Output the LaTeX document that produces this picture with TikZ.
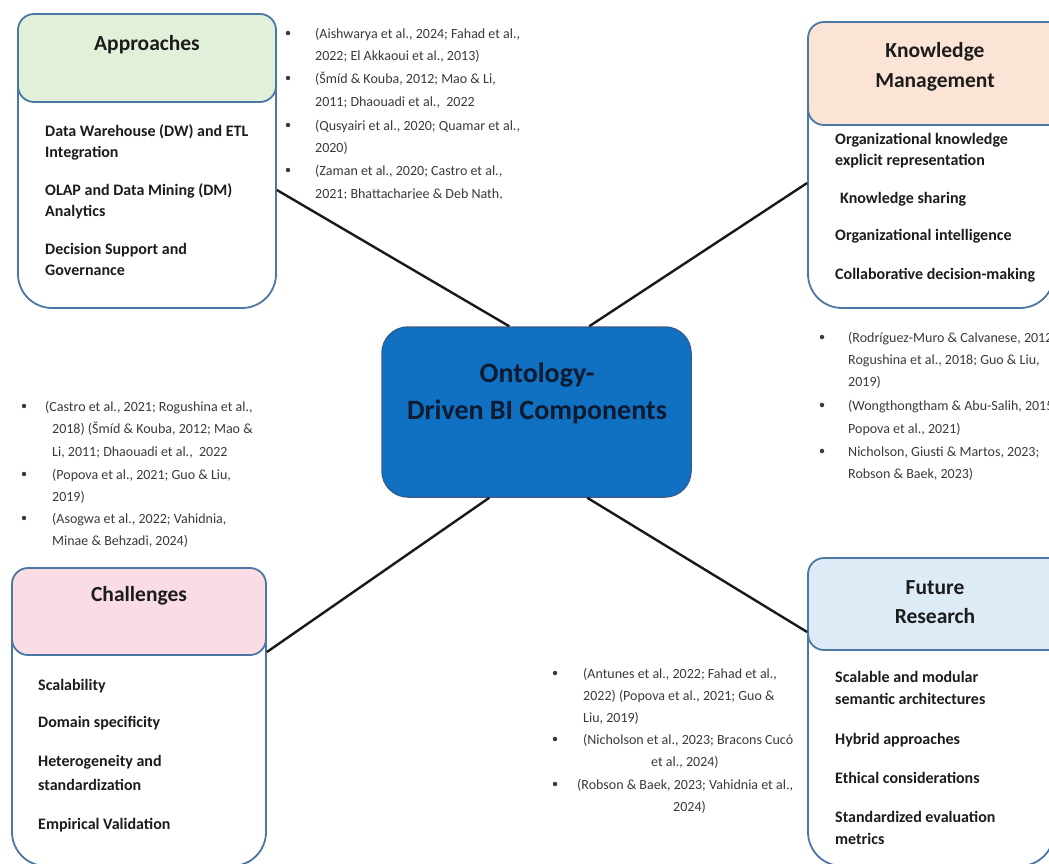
\documentclass[tikz,border=0pt]{standalone}
\usepackage{fontspec}
\setmainfont{Carlito}
\usetikzlibrary{calc}
\definecolor{bordc}{HTML}{4A77A3}
\definecolor{greenh}{HTML}{E2EFD9}
\definecolor{peachh}{HTML}{FBE4D5}
\definecolor{pinkh}{HTML}{F9DCE4}
\definecolor{blueh}{HTML}{DDEBF7}
\definecolor{ctrfill}{HTML}{1070C2}
\definecolor{ctrbord}{HTML}{2F5E92}
\definecolor{txt}{HTML}{1C1C1C}
\definecolor{citec}{HTML}{3A3A3A}
\definecolor{ctrtxt}{HTML}{0E1A30}
\tikzset{
  outerbox/.style={draw=bordc, line width=1.8pt, fill=white, rounded corners=34pt, inner sep=0},
  headbox/.style={draw=bordc, line width=1.8pt, rounded corners=16pt, inner sep=0},
  bodytxt/.style={font=\bfseries\fontsize{16}{19}\selectfont, text=txt, anchor=base west, inner sep=0},
  citetxt/.style={font=\fontsize{14}{16}\selectfont, text=citec, anchor=base west, inner sep=0},
  titletxt/.style={font=\bfseries\fontsize{21.5}{25}\selectfont, text=txt, anchor=base, inner sep=0},
  ctrtitle/.style={font=\bfseries\fontsize{28}{32}\selectfont, text=ctrtxt, anchor=base, inner sep=0},
  bul/.style={circle, fill=citec, inner sep=0, minimum size=4.5pt},
  conn/.style={draw=black!90, line width=2.4pt},
}
\begin{document}
\begin{tikzpicture}[x=1pt,y=-1pt]
\useasboundingbox (0,0) rectangle (1049,863);
\fill[white] (0,0) rectangle (1049,863);

% outer boxes
\node[outerbox, minimum width=258pt, minimum height=294pt] (appr) at (147,161) {};
\node[outerbox, minimum width=246pt, minimum height=286pt] (know) at (931,165) {};
\node[outerbox, minimum width=254pt, minimum height=298pt] (chal) at (139,717) {};
\node[outerbox, minimum width=246pt, minimum height=308pt] (futr) at (931,712) {};

% header boxes
\node[headbox, fill=greenh, minimum width=258pt, minimum height=88pt] (apprh) at (147,58) {};
\node[headbox, fill=peachh, minimum width=262pt, minimum height=103pt] (knowh) at (939,73.5) {};
\node[headbox, fill=pinkh, minimum width=254pt, minimum height=87pt] (chalh) at (139,611.5) {};
\node[headbox, fill=blueh, minimum width=262pt, minimum height=92pt] (futrh) at (939,604) {};

% center
\node[draw=ctrbord, line width=1.5pt, fill=ctrfill, rounded corners=26pt, minimum width=309pt, minimum height=170pt, inner sep=0] (ctr) at (536.5,412) {};
\node[ctrtitle] (ct1) at (537,382.5) {Ontology-};
\node[ctrtitle] (ct2) at (537,419.5) {Driven BI Components};

% connectors
\coordinate (ca) at ($(appr.east)+(0,29)$);
\coordinate (ck) at ($(know.west)+(0,18)$);
\coordinate (cc) at ($(chal.east)+(0,-65)$);
\coordinate (cf) at ($(futr.west)+(0,-80)$);
\coordinate (ea) at ($(ctr.north west)+(128,0)$);
\coordinate (ek) at ($(ctr.north west)+(208,0)$);
\coordinate (ec) at ($(ctr.south west)+(108,0)$);
\coordinate (ef) at ($(ctr.south west)+(206,0)$);
\draw[conn] (ca) -- (ea);
\draw[conn] (ck) -- (ek);
\draw[conn] (cc) -- (ec);
\draw[conn] (cf) -- (ef);

% titles
\node[titletxt] (t1) at (147,50) {Approaches};
\node[titletxt] (t2) at (935,57) {Knowledge};
\node[titletxt] (t3) at (935,87) {Management};
\node[titletxt] (t4) at (139,601) {Challenges};
\node[titletxt] (t5) at (935,594) {Future};
\node[titletxt] (t6) at (935,623) {Research};

% approaches body
\node[bodytxt] (a1) at (45,136) {Data Warehouse (DW) and ETL};
\node[bodytxt] (a2) at (45,157) {Integration};
\node[bodytxt] (a3) at (45,195) {OLAP and Data Mining (DM)};
\node[bodytxt] (a4) at (45,216) {Analytics};
\node[bodytxt] (a5) at (45,254) {Decision Support and};
\node[bodytxt] (a6) at (45,275) {Governance};

% knowledge body
\node[bodytxt] (k1) at (835,144) {Organizational knowledge};
\node[bodytxt] (k2) at (835,165) {explicit representation};
\node[bodytxt] (k3) at (840,203) {Knowledge sharing};
\node[bodytxt] (k4) at (835,240) {Organizational intelligence};
\node[bodytxt] (k5) at (835,279) {Collaborative decision-making};

% challenges body
\node[bodytxt] (c1) at (38,690) {Scalability};
\node[bodytxt] (c2) at (38,727) {Domain specificity};
\node[bodytxt] (c3) at (38,766) {Heterogeneity and};
\node[bodytxt] (c4) at (38,790) {standardization};
\node[bodytxt] (c5) at (38,829) {Empirical Validation};

% future body
\node[bodytxt] (f1) at (835,682) {Scalable and modular};
\node[bodytxt] (f2) at (835,704) {semantic architectures};
\node[bodytxt] (f3) at (835,744) {Hybrid approaches};
\node[bodytxt] (f4) at (835,783) {Ethical considerations};
\node[bodytxt] (f5) at (835,822) {Standardized evaluation};
\node[bodytxt] (f6) at (835,844) {metrics};

% top-middle citations
\node[bul] (b1) at (288,33) {};
\node[bul] (b2) at (288,78) {};
\node[bul] (b3) at (288,125) {};
\node[bul] (b4) at (288,170) {};
\node[citetxt] (p1) at (315,38) {(Aishwarya et al., 2024; Fahad et al.,};
\node[citetxt] (p2) at (315,60) {2022; El Akkaoui et al., 2013)};
\node[citetxt] (p3) at (315,83) {(Šmíd \& Kouba, 2012; Mao \& Li,};
\node[citetxt] (p4) at (315,106) {2011; Dhaouadi et al.,\ \ 2022};
\node[citetxt] (p5) at (315,130) {(Qusyairi et al., 2020; Quamar et al.,};
\node[citetxt] (p6) at (315,152) {2020)};
\node[citetxt] (p7) at (315,175) {(Zaman et al., 2020; Castro et al.,};
\begin{scope}
\clip (300,182) rectangle (560,198);
\node[citetxt] (p8) at (315,198) {2021; Bhattacharjee \& Deb Nath,};
\end{scope}

% right-middle citations
\node[bul] (r1) at (822,337) {};
\node[bul] (r2) at (822,405) {};
\node[bul] (r3) at (822,451) {};
\node[citetxt] (q1) at (848,342) {(Rodríguez-Muro \& Calvanese, 2012;};
\node[citetxt] (q2) at (848,364) {Rogushina et al., 2018; Guo \& Liu,};
\node[citetxt] (q3) at (848,386) {2019)};
\node[citetxt] (q4) at (848,410) {(Wongthongtham \& Abu-Salih, 2015;};
\node[citetxt] (q5) at (848,433) {Popova et al., 2021)};
\node[citetxt] (q6) at (848,456) {Nicholson, Giusti \& Martos, 2023;};
\node[citetxt] (q7) at (848,478) {Robson \& Baek, 2023)};

% left-middle citations
\node[bul] (l1) at (24,406) {};
\node[bul] (l2) at (24,474) {};
\node[bul] (l3) at (24,518) {};
\node[citetxt] (m1) at (45,411) {(Castro et al., 2021; Rogushina et al.,};
\node[citetxt] (m2) at (52,433) {2018) (Šmíd \& Kouba, 2012; Mao \&};
\node[citetxt] (m3) at (52,456) {Li, 2011; Dhaouadi et al.,\ \ 2022};
\node[citetxt] (m4) at (52,479) {(Popova et al., 2021; Guo \& Liu,};
\node[citetxt] (m5) at (52,501) {2019)};
\node[citetxt] (m6) at (52,523) {(Asogwa et al., 2022; Vahidnia,};
\node[citetxt] (m7) at (52,545) {Minae \& Behzadi, 2024)};

% bottom-middle citations
\node[bul] (d1) at (555,673) {};
\node[bul] (d2) at (555,739) {};
\node[bul] (d3) at (555,784) {};
\node[citetxt] (n1) at (583,678) {(Antunes et al., 2022; Fahad et al.,};
\node[citetxt] (n2) at (583,700) {2022) (Popova et al., 2021; Guo \&};
\node[citetxt] (n3) at (583,722) {Liu, 2019)};
\node[citetxt] (n4) at (583,744) {(Nicholson et al., 2023; Bracons Cucó};
\node[citetxt] (n5) at (651,766) {et al., 2024)};
\node[citetxt] (n6) at (577,789) {(Robson \& Baek, 2023; Vahidnia et al.,};
\node[citetxt] (n7) at (673,811) {2024)};
\end{tikzpicture}
\end{document}
